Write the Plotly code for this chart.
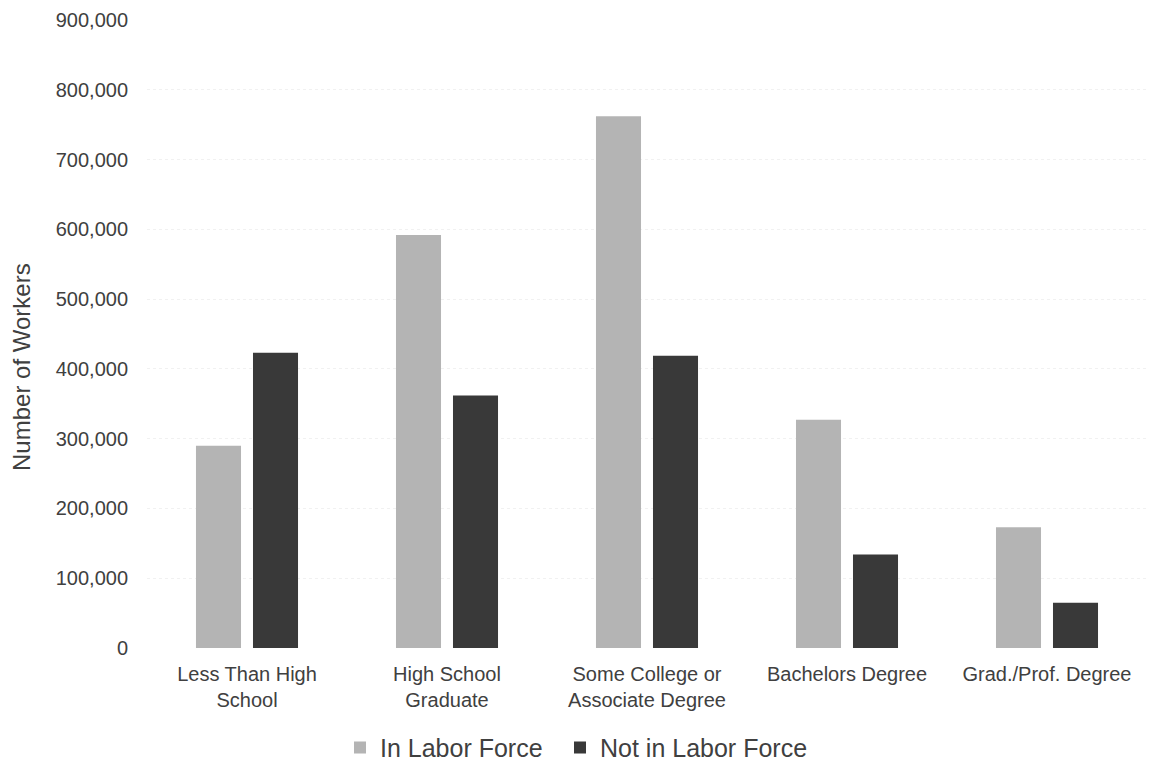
import plotly.graph_objects as go

categories = [
    "Less Than High<br>School",
    "High School<br>Graduate",
    "Some College or<br>Associate Degree",
    "Bachelors Degree",
    "Grad./Prof. Degree",
]
in_labor_force = [290000, 592000, 762000, 327000, 173000]
not_in_labor_force = [423000, 362000, 419000, 134000, 65000]
y_ticks = list(range(0, 900001, 100000))

FONT = "Liberation Sans, Arial, sans-serif"
TEXT = "#404040"

fig = go.Figure()
fig.add_trace(go.Bar(
    name="In Labor Force", x=categories, y=in_labor_force,
    marker=dict(color="#b4b4b4", line=dict(width=0)),
    legend="legend",
))
fig.add_trace(go.Bar(
    name="Not in Labor Force", x=categories, y=not_in_labor_force,
    marker=dict(color="#393939", line=dict(width=0)),
    legend="legend2",
))

legend_style = dict(
    orientation="h", xanchor="left", y=-0.159, yanchor="middle",
    font=dict(size=25, color=TEXT), itemwidth=30,
    bgcolor="rgba(0,0,0,0)",
)

fig.update_layout(
    width=1149, height=761,
    margin=dict(l=147, r=2, t=20, b=113, autoexpand=False),
    paper_bgcolor="white", plot_bgcolor="white",
    barmode="group", bargap=0.43, bargroupgap=0.21,
    font=dict(family=FONT, color=TEXT, size=20),
    showlegend=True,
    legend=dict(x=0.193, **legend_style),
    legend2=dict(x=0.413, **legend_style),
    annotations=[dict(
        text="Number of Workers", textangle=-90,
        xref="paper", yref="paper", x=-0.125, y=0.4475,
        xanchor="center", yanchor="middle", showarrow=False,
        font=dict(size=24, color=TEXT),
    )],
)
fig.update_xaxes(
    showline=False, showgrid=False, ticks="", zeroline=False,
    tickfont=dict(size=20, color=TEXT), ticklabelstandoff=12,
)
fig.update_yaxes(
    range=[0, 900000], tickvals=y_ticks, tickformat=",",
    showgrid=True, gridcolor="#f1f1f1", griddash="dot", gridwidth=1,
    zeroline=False, showline=False, ticks="",
    tickfont=dict(size=20, color=TEXT), ticklabelstandoff=18,
)

fig.write_html("out.html")
